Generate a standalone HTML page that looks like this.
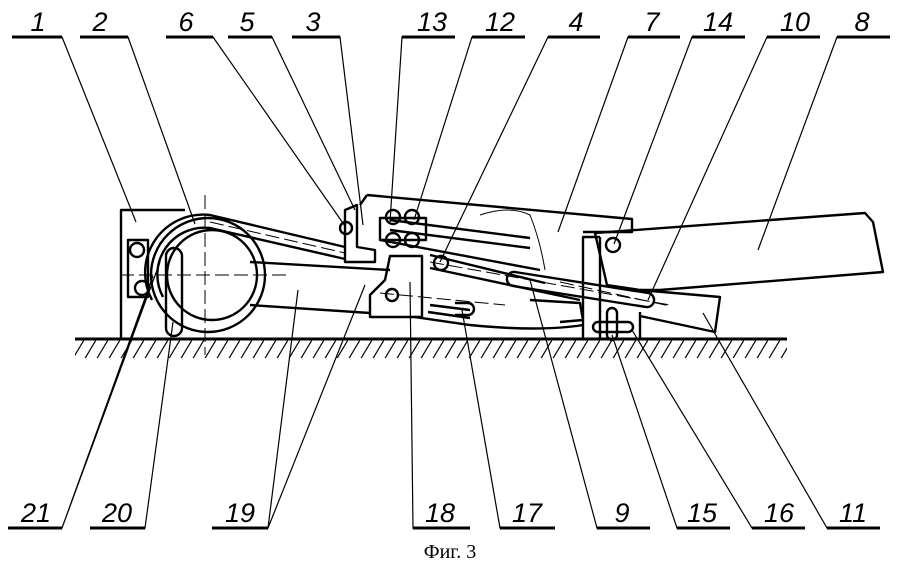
<!DOCTYPE html>
<html><head><meta charset="utf-8"><style>
html,body{margin:0;padding:0;background:#fff}
svg{display:block}
text{font-family:"Liberation Sans",sans-serif;font-style:italic;font-size:27px;fill:#000}
</style></head><body>
<svg width="900" height="569" viewBox="0 0 900 569" xmlns="http://www.w3.org/2000/svg">
<defs>
<pattern id="h" width="12" height="20" patternUnits="userSpaceOnUse">
<line x1="0" y1="20" x2="12" y2="0" stroke="#000" stroke-width="1.2"/>
</pattern>
</defs>
<!-- ground -->
<rect x="75" y="340" width="712" height="18" fill="url(#h)"/>
<line x1="75" y1="339" x2="787" y2="339" stroke="#000" stroke-width="3"/>

<g fill="none" stroke="#000" stroke-width="2.4" stroke-linejoin="round">
<path d="M121 339 V210 H185"/>
<rect x="128" y="240" width="20" height="57"/>
<circle cx="137" cy="250" r="7"/>
<circle cx="142" cy="288" r="7"/>
<circle cx="208" cy="275" r="57"/>
<circle cx="212" cy="275" r="45"/>
<path d="M152 300 A58 58 0 0 1 210 215 L345 247"/>
<path d="M163 297 A47 47 0 0 1 210 228 L345 259"/>
<rect x="166" y="248" width="16" height="88" rx="8"/>
<path d="M250 262 L390 270"/>
<path d="M250 305 L370 313"/>
<path d="M390 256 H422 V317 H370 V295 L385 280 Z"/>
<circle cx="392" cy="295" r="6"/>
<path d="M345 210 L357 205 V247 L375 250 V262 H345 Z"/>
<circle cx="346" cy="228" r="6"/>
<rect x="380" y="218" width="46" height="22"/>
<circle cx="393" cy="217" r="7"/><circle cx="412" cy="217" r="7"/>
<circle cx="393" cy="240" r="7"/><circle cx="412" cy="240" r="7"/>
<path d="M367 195 L632 219 V232 L583 232"/>
<path d="M367 195 L360 205"/>
<path d="M390 220 L530 238 M390 230 L530 248 M380 240 L540 270"/>
<path d="M430 255 L545 283 M430 268 L580 300" />
<circle cx="441" cy="263" r="7"/>
<path d="M515 272 L648 293 A7 7 0 0 1 646 307 L513 286 A7 7 0 0 1 515 272 Z"/>
<path d="M430 305 L470 310 M428 312 L470 318"/>
<path d="M455 303 H468 A6 6 0 0 1 468 315 H455"/>
<path d="M415 317 L470 325 Q540 332 583 325"/>
<path d="M530 300 L580 303 L583 320 L560 322"/>
<path d="M583 339 V237 H600"/>
<path d="M600 237 V339 M583 339 H640 V312"/>
<path d="M595 233 L865 213 L873 222 L883 272 L660 290 L640 290 L607 285 Z"/>
<circle cx="613" cy="245" r="7"/>
<path d="M640 290 L720 297 L715 332 L640 316"/>
<rect x="593" y="322" width="40" height="10" rx="5"/>
<rect x="607" y="308" width="10" height="32" rx="5"/>
</g>
<g fill="none" stroke="#000" stroke-width="1" stroke-dasharray="14 5">
<line x1="120" y1="275" x2="290" y2="275"/>
<line x1="205" y1="195" x2="205" y2="355"/>
<line x1="210" y1="222" x2="345" y2="253"/>
<line x1="430" y1="262" x2="670" y2="305"/>
<line x1="380" y1="293" x2="505" y2="305"/>
<line x1="560" y1="282" x2="670" y2="306"/>
</g>
<path d="M480 215 Q510 205 530 215 Q540 240 545 270" fill="none" stroke="#000" stroke-width="1"/>

<g stroke="#000" stroke-width="1.2" fill="none">
<path d="M12 37 H62 L136 222"/>
<path d="M80 37 H128 L195 224"/>
<path d="M166 37 H213 L345 226"/>
<path d="M228 37 H272 L355 210"/>
<path d="M292 37 H340 L363 225"/>
<path d="M455 37 H402 L390 222"/>
<path d="M525 37 H472 L414 220"/>
<path d="M600 37 H548 L440 262"/>
<path d="M680 37 H628 L558 232"/>
<path d="M745 37 H692 L614 244"/>
<path d="M820 37 H767 L648 300"/>
<path d="M890 37 H837 L758 250"/>
<path d="M8 528 H62 L148 292 M62 528 L153 276 M62 528 L160 262"/>
<path d="M90 528 H145 L173 322"/>
<path d="M212 528 H268 L298 290 M268 528 L365 285"/>
<path d="M470 528 H413 L410 282"/>
<path d="M555 528 H500 L462 310"/>
<path d="M650 528 H597 L530 280"/>
<path d="M730 528 H677 L612 335"/>
<path d="M805 528 H752 L632 330"/>
<path d="M880 528 H827 L703 313"/>
</g>
<g stroke="#000" stroke-width="3">
<path d="M12 37 H62 M80 37 H128 M166 37 H213 M228 37 H272 M292 37 H340 M402 37 H455 M472 37 H525 M548 37 H600 M628 37 H680 M692 37 H745 M767 37 H820 M837 37 H890"/>
<path d="M8 528 H62 M90 528 H145 M212 528 H268 M413 528 H470 M500 528 H555 M597 528 H650 M677 528 H730 M752 528 H805 M827 528 H880"/>
</g>
<g text-anchor="middle">
<text x="38" y="31">1</text><text x="100" y="31">2</text><text x="186" y="31">6</text>
<text x="247" y="31">5</text><text x="313" y="31">3</text><text x="432" y="31">13</text>
<text x="500" y="31">12</text><text x="576" y="31">4</text><text x="652" y="31">7</text>
<text x="718" y="31">14</text><text x="795" y="31">10</text><text x="862" y="31">8</text>
<text x="36" y="522">21</text><text x="117" y="522">20</text><text x="240" y="522">19</text>
<text x="440" y="522">18</text><text x="527" y="522">17</text><text x="622" y="522">9</text>
<text x="702" y="522">15</text><text x="779" y="522">16</text><text x="853" y="522">11</text>
</g>
<text x="450" y="558" text-anchor="middle" style="font-family:'Liberation Serif',serif;font-style:normal;font-size:20px">Фиг. 3</text>
</svg>
</body></html>
